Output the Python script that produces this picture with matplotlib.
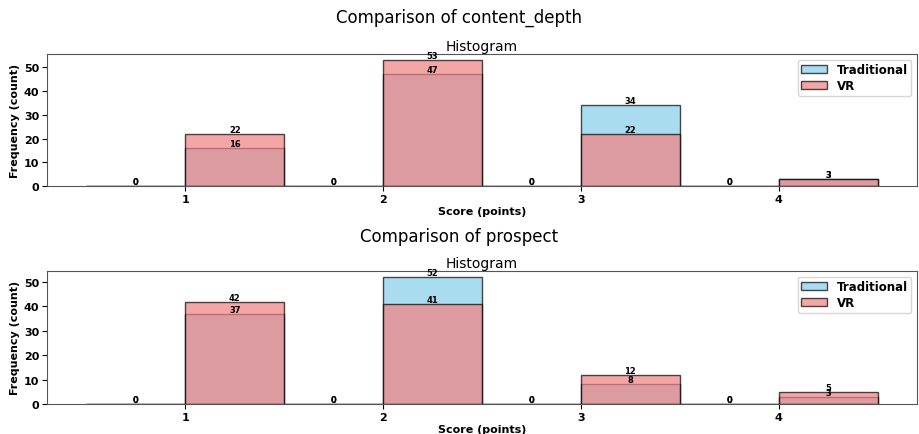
import numpy as np
import matplotlib
matplotlib.use("Agg")
import matplotlib.pyplot as plt

# bin edges used for the score histograms (half-point bins)
bin_edges = [0.5, 1.0, 1.5, 2.0, 2.5, 3.0, 3.5, 4.0, 4.5]

# counts per bin, one value per half-point bin
content_depth_trad = [0, 16, 0, 47, 0, 34, 0, 3]
content_depth_vr = [0, 22, 0, 53, 0, 22, 0, 3]
prospect_trad = [0, 37, 0, 52, 0, 8, 0, 3]
prospect_vr = [0, 42, 0, 41, 0, 12, 0, 5]

metrics = [
    ("content_depth", content_depth_trad, content_depth_vr),
    ("prospect", prospect_trad, prospect_vr),
]

fig = plt.figure(figsize=(9.19, 4.35), dpi=100)

# axes positions (left, bottom, width, height) for the two rows
positions = [[0.051, 0.570, 0.947, 0.304], [0.051, 0.069, 0.947, 0.306]]
title_y = [0.958, 0.455]

centers = [(bin_edges[i] + bin_edges[i + 1]) / 2 for i in range(len(bin_edges) - 1)]

for (name, trad, vr), pos, ty in zip(metrics, positions, title_y):
    ax = fig.add_axes(pos)
    fig.text(0.5, ty, "Comparison of " + name, ha="center", va="center", fontsize=12)

    n1, b1, _ = ax.hist(centers, bins=bin_edges, weights=trad, color="skyblue",
                        alpha=0.7, edgecolor="black", label="Traditional")
    n2, b2, _ = ax.hist(centers, bins=bin_edges, weights=vr, color="lightcoral",
                        alpha=0.7, edgecolor="black", label="VR")

    for n, b in [(n1, b1), (n2, b2)]:
        for i in range(len(n)):
            ax.text((b[i] + b[i + 1]) / 2, n[i], str(int(n[i])), ha="center",
                    va="bottom", fontsize=6, fontweight="bold")

    ax.set_title("Histogram", fontsize=10, pad=3)
    ax.set_xlabel("Score (points)", fontsize=8, fontweight="bold", labelpad=2)
    ax.set_ylabel("Frequency (count)", fontsize=8, fontweight="bold", labelpad=3)
    ax.set_xticks([1, 2, 3, 4])
    ax.set_yticks([0, 10, 20, 30, 40, 50])
    ax.tick_params(axis="x", pad=2)
    ax.tick_params(axis="y", pad=2)
    for lbl in ax.get_xticklabels() + ax.get_yticklabels():
        lbl.set_fontsize(8)
        lbl.set_fontweight("bold")
    ax.legend(loc="upper right", prop={"weight": "bold", "size": 8.5},
              labelspacing=0.25, borderpad=0.3, handlelength=2.2)
    for sp in ax.spines.values():
        sp.set_color("#555555")

plt.savefig("out.png", dpi=100)
